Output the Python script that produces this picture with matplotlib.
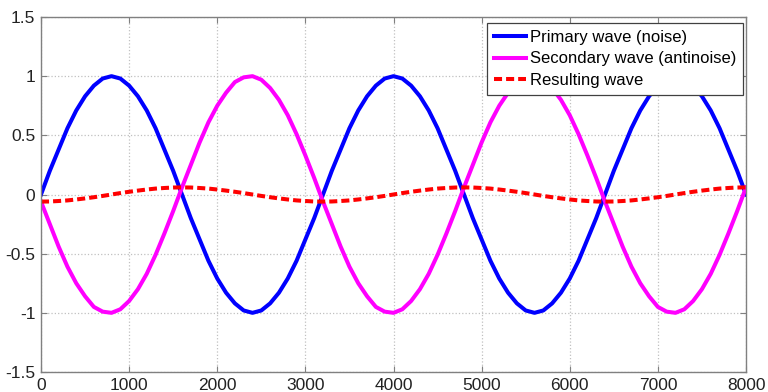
import numpy as np
import matplotlib
matplotlib.use('Agg')
import matplotlib.pyplot as plt
from matplotlib.ticker import FormatStrFormatter

plt.rcParams['font.family'] = ['Liberation Sans', 'DejaVu Sans']

# data, one sample every 100 units  ============================================
x = list(range(0, 8001, 100))

primary = [
    0.00, 0.20, 0.38, 0.56, 0.71, 0.83, 0.92, 0.98, 1.00, 0.98, 0.92, 0.83, 0.71, 0.56, 0.38, 0.20,
    0.00, -0.20, -0.38, -0.56, -0.71, -0.83, -0.92, -0.98, -1.00, -0.98, -0.92, -0.83, -0.71, -0.56, -0.38, -0.20,
    0.00, 0.20, 0.38, 0.56, 0.71, 0.83, 0.92, 0.98, 1.00, 0.98, 0.92, 0.83, 0.71, 0.56, 0.38, 0.20,
    0.00, -0.20, -0.38, -0.56, -0.71, -0.83, -0.92, -0.98, -1.00, -0.98, -0.92, -0.83, -0.71, -0.56, -0.38, -0.20,
    0.00, 0.20, 0.38, 0.56, 0.71, 0.83, 0.92, 0.98, 1.00, 0.98, 0.92, 0.83, 0.71, 0.56, 0.38, 0.20,
    0.00,
]

secondary = [
    -0.06, -0.25, -0.44, -0.61, -0.75, -0.86, -0.95, -0.99, -1.00, -0.97, -0.90, -0.80, -0.67, -0.51, -0.33, -0.14,
    0.06, 0.25, 0.44, 0.61, 0.75, 0.86, 0.95, 0.99, 1.00, 0.97, 0.90, 0.80, 0.67, 0.51, 0.33, 0.14,
    -0.06, -0.25, -0.44, -0.61, -0.75, -0.86, -0.95, -0.99, -1.00, -0.97, -0.90, -0.80, -0.67, -0.51, -0.33, -0.14,
    0.06, 0.25, 0.44, 0.61, 0.75, 0.86, 0.95, 0.99, 1.00, 0.97, 0.90, 0.80, 0.67, 0.51, 0.33, 0.14,
    -0.06, -0.25, -0.44, -0.61, -0.75, -0.86, -0.95, -0.99, -1.00, -0.97, -0.90, -0.80, -0.67, -0.51, -0.33, -0.14,
    0.06,
]

resulting = [
    -0.060, -0.059, -0.055, -0.050, -0.042, -0.033, -0.023, -0.012, 0.000, 0.012, 0.023, 0.033, 0.042, 0.050, 0.055, 0.059,
    0.060, 0.059, 0.055, 0.050, 0.042, 0.033, 0.023, 0.012, 0.000, -0.012, -0.023, -0.033, -0.042, -0.050, -0.055, -0.059,
    -0.060, -0.059, -0.055, -0.050, -0.042, -0.033, -0.023, -0.012, 0.000, 0.012, 0.023, 0.033, 0.042, 0.050, 0.055, 0.059,
    0.060, 0.059, 0.055, 0.050, 0.042, 0.033, 0.023, 0.012, 0.000, -0.012, -0.023, -0.033, -0.042, -0.050, -0.055, -0.059,
    -0.060, -0.059, -0.055, -0.050, -0.042, -0.033, -0.023, -0.012, 0.000, 0.012, 0.023, 0.033, 0.042, 0.050, 0.055, 0.059,
    0.060,
]

labels = ['Primary wave (noise)', 'Secondary wave (antinoise)', 'Resulting wave']

xticks = list(range(0, 8001, 1000))
yticks = [-1.5, -1, -0.5, 0, 0.5, 1, 1.5]

# plot  ========================================================================
fig = plt.figure(figsize=(7.68, 3.92), dpi=100)
ax = fig.add_axes([41/768, 1 - 372/392, (746 - 41)/768, (372 - 17)/392])

ax.plot(x, primary, color=(0, 0, 1), lw=2.9, solid_joinstyle='round', label=labels[0])
ax.plot(x, secondary, color=(1, 0, 1), lw=2.9, solid_joinstyle='round', label=labels[1])
ax.plot(x, resulting, color=(1, 0, 0), lw=2.9, dashes=(2.0, 1.0), label=labels[2])

ax.set_xlim(0, 8000)
ax.set_ylim(-1.5, 1.5)
ax.set_xticks(xticks)
ax.set_yticks(yticks)
ax.yaxis.set_major_formatter(FormatStrFormatter('%g'))

ax.grid(True, linestyle=':', color='#c0c0c0', lw=0.9)
for s in ax.spines.values():
    s.set_color('#808080')
    s.set_linewidth(1.0)
ax.tick_params(direction='in', length=4, color='#808080', labelsize=12.5,
               labelcolor='#222222', top=True, right=True)
ax.tick_params(axis='x', pad=4)
ax.tick_params(axis='y', pad=4)

leg = ax.legend(loc='upper right', bbox_to_anchor=(743/768, 1 - 23/392),
                bbox_transform=fig.transFigure, fontsize=12, frameon=True,
                fancybox=False, framealpha=1, borderaxespad=0, handlelength=1.9,
                handletextpad=0.25, labelspacing=0.4, borderpad=0.4)
leg.get_frame().set_edgecolor('#404040')
leg.get_frame().set_linewidth(0.9)

plt.savefig('out.png', dpi=100)
